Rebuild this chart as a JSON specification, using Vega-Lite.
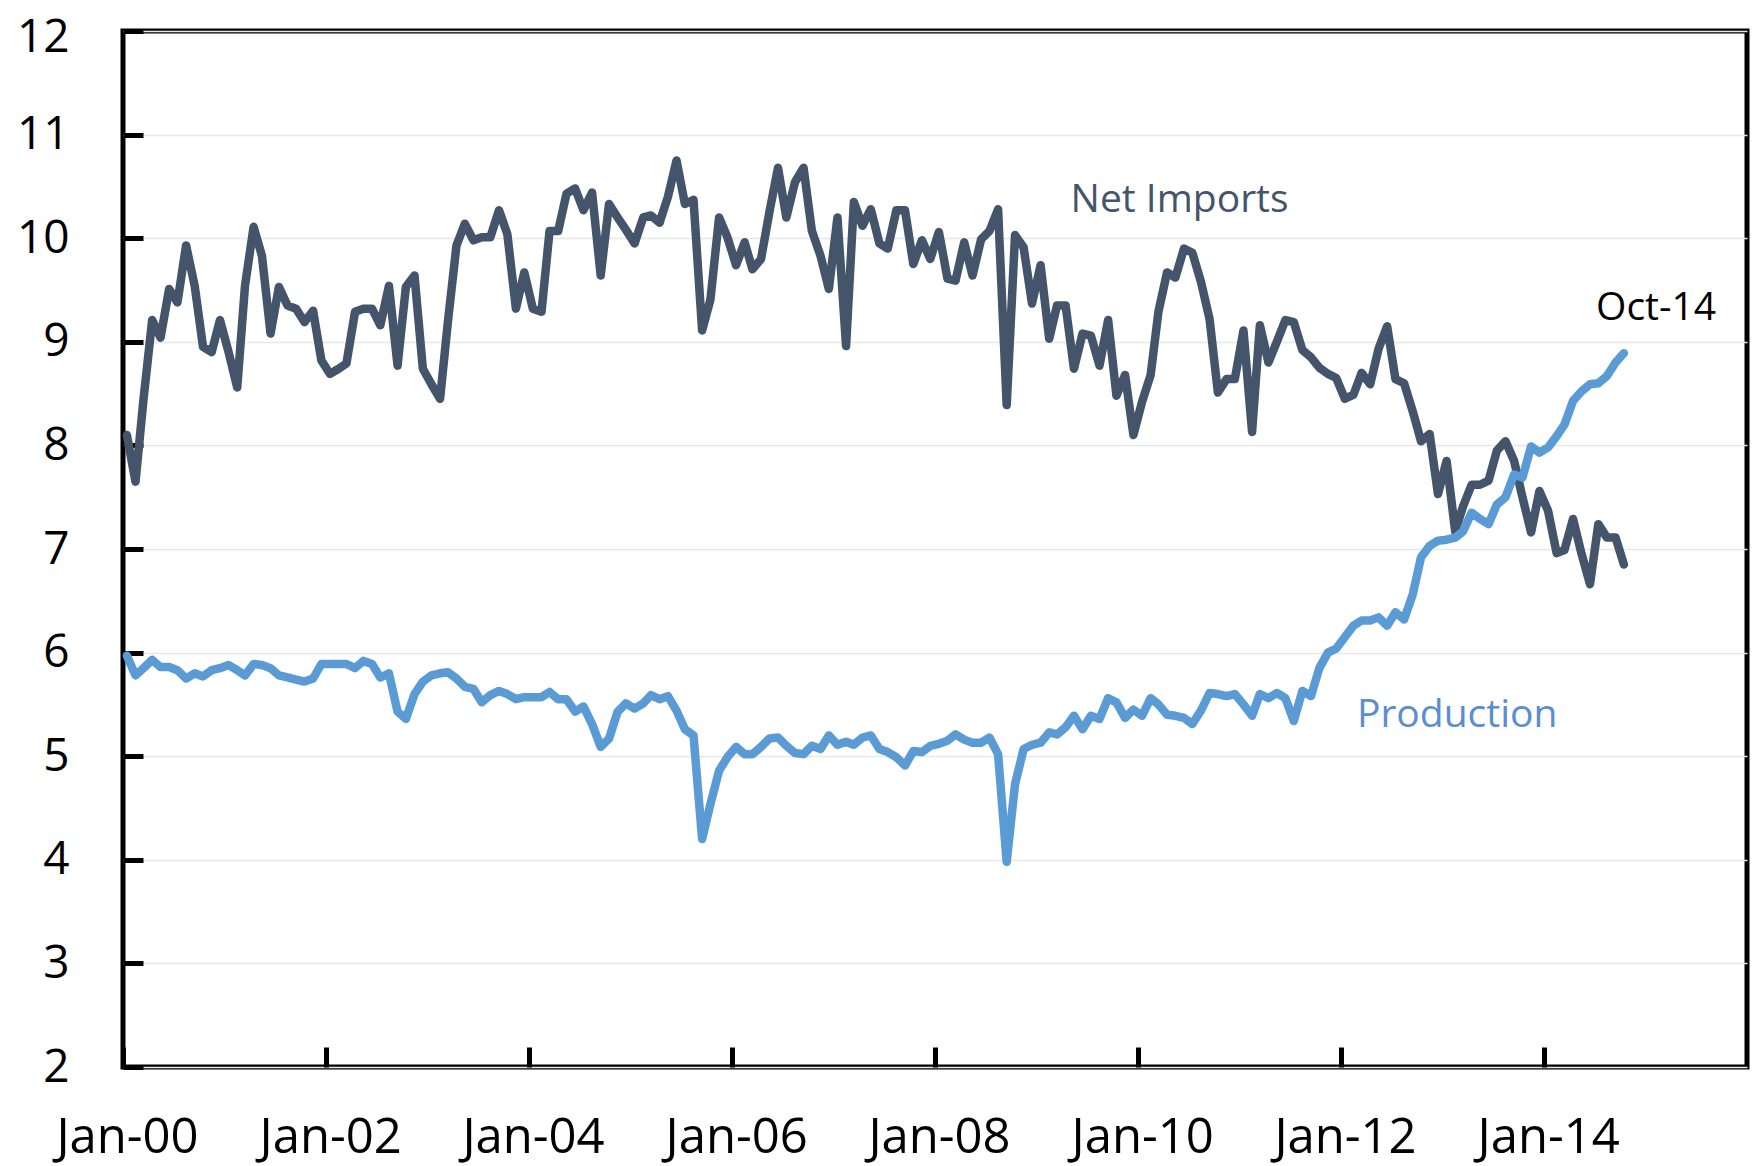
{
  "$schema": "https://vega.github.io/schema/vega-lite/v6.json",
  "width": 1624,
  "height": 1036,
  "autosize": {"type": "none"},
  "padding": {"left": 123, "top": 31, "right": 9, "bottom": 99},
  "background": "#ffffff",
  "config": {"font": "Open Sans", "view": {"stroke": "#000000", "strokeWidth": 5}},
  "datasets": {
    "series": [
      {"d":"2000-01-15","ni":8.10,"pr":5.97},{"d":"2000-02-15","ni":7.65,"pr":5.78},{"d":"2000-03-15","ni":8.45,"pr":5.85},{"d":"2000-04-15","ni":9.21,"pr":5.93},{"d":"2000-05-15","ni":9.04,"pr":5.86},{"d":"2000-06-15","ni":9.51,"pr":5.86},{"d":"2000-07-15","ni":9.38,"pr":5.83},{"d":"2000-08-15","ni":9.93,"pr":5.75},{"d":"2000-09-15","ni":9.54,"pr":5.80},{"d":"2000-10-15","ni":8.95,"pr":5.77},{"d":"2000-11-15","ni":8.90,"pr":5.83},{"d":"2000-12-15","ni":9.21,"pr":5.85},
      {"d":"2001-01-15","ni":8.90,"pr":5.88},{"d":"2001-02-15","ni":8.56,"pr":5.83},{"d":"2001-03-15","ni":9.54,"pr":5.78},{"d":"2001-04-15","ni":10.11,"pr":5.89},{"d":"2001-05-15","ni":9.83,"pr":5.88},{"d":"2001-06-15","ni":9.08,"pr":5.85},{"d":"2001-07-15","ni":9.53,"pr":5.78},{"d":"2001-08-15","ni":9.35,"pr":5.76},{"d":"2001-09-15","ni":9.32,"pr":5.74},{"d":"2001-10-15","ni":9.19,"pr":5.72},{"d":"2001-11-15","ni":9.30,"pr":5.75},{"d":"2001-12-15","ni":8.82,"pr":5.89},
      {"d":"2002-01-15","ni":8.69,"pr":5.89},{"d":"2002-02-15","ni":8.74,"pr":5.89},{"d":"2002-03-15","ni":8.79,"pr":5.89},{"d":"2002-04-15","ni":9.29,"pr":5.85},{"d":"2002-05-15","ni":9.32,"pr":5.92},{"d":"2002-06-15","ni":9.32,"pr":5.89},{"d":"2002-07-15","ni":9.16,"pr":5.76},{"d":"2002-08-15","ni":9.54,"pr":5.80},{"d":"2002-09-15","ni":8.77,"pr":5.43},{"d":"2002-10-15","ni":9.53,"pr":5.36},{"d":"2002-11-15","ni":9.64,"pr":5.60},{"d":"2002-12-15","ni":8.74,"pr":5.72},
      {"d":"2003-01-15","ni":8.59,"pr":5.78},{"d":"2003-02-15","ni":8.45,"pr":5.80},{"d":"2003-03-15","ni":9.19,"pr":5.81},{"d":"2003-04-15","ni":9.93,"pr":5.75},{"d":"2003-05-15","ni":10.14,"pr":5.67},{"d":"2003-06-15","ni":9.98,"pr":5.65},{"d":"2003-07-15","ni":10.01,"pr":5.52},{"d":"2003-08-15","ni":10.01,"pr":5.59},{"d":"2003-09-15","ni":10.27,"pr":5.63},{"d":"2003-10-15","ni":10.04,"pr":5.60},{"d":"2003-11-15","ni":9.32,"pr":5.55},{"d":"2003-12-15","ni":9.67,"pr":5.57},
      {"d":"2004-01-15","ni":9.32,"pr":5.57},{"d":"2004-02-15","ni":9.29,"pr":5.57},{"d":"2004-03-15","ni":10.07,"pr":5.62},{"d":"2004-04-15","ni":10.07,"pr":5.55},{"d":"2004-05-15","ni":10.43,"pr":5.55},{"d":"2004-06-15","ni":10.48,"pr":5.43},{"d":"2004-07-15","ni":10.27,"pr":5.48},{"d":"2004-08-15","ni":10.44,"pr":5.31},{"d":"2004-09-15","ni":9.64,"pr":5.09},{"d":"2004-10-15","ni":10.33,"pr":5.17},{"d":"2004-11-15","ni":10.20,"pr":5.43},{"d":"2004-12-15","ni":10.08,"pr":5.51},
      {"d":"2005-01-15","ni":9.95,"pr":5.46},{"d":"2005-02-15","ni":10.20,"pr":5.51},{"d":"2005-03-15","ni":10.22,"pr":5.59},{"d":"2005-04-15","ni":10.15,"pr":5.55},{"d":"2005-05-15","ni":10.40,"pr":5.58},{"d":"2005-06-15","ni":10.75,"pr":5.44},{"d":"2005-07-15","ni":10.33,"pr":5.26},{"d":"2005-08-15","ni":10.37,"pr":5.20},{"d":"2005-09-15","ni":9.11,"pr":4.20},{"d":"2005-10-15","ni":9.41,"pr":4.54},{"d":"2005-11-15","ni":10.20,"pr":4.86},{"d":"2005-12-15","ni":10.01,"pr":4.99},
      {"d":"2006-01-15","ni":9.74,"pr":5.09},{"d":"2006-02-15","ni":9.96,"pr":5.02},{"d":"2006-03-15","ni":9.70,"pr":5.02},{"d":"2006-04-15","ni":9.80,"pr":5.09},{"d":"2006-05-15","ni":10.25,"pr":5.17},{"d":"2006-06-15","ni":10.68,"pr":5.18},{"d":"2006-07-15","ni":10.20,"pr":5.10},{"d":"2006-08-15","ni":10.54,"pr":5.03},{"d":"2006-09-15","ni":10.68,"pr":5.02},{"d":"2006-10-15","ni":10.07,"pr":5.10},{"d":"2006-11-15","ni":9.83,"pr":5.07},{"d":"2006-12-15","ni":9.51,"pr":5.20},
      {"d":"2007-01-15","ni":10.20,"pr":5.11},{"d":"2007-02-15","ni":8.96,"pr":5.14},{"d":"2007-03-15","ni":10.35,"pr":5.11},{"d":"2007-04-15","ni":10.12,"pr":5.18},{"d":"2007-05-15","ni":10.28,"pr":5.20},{"d":"2007-06-15","ni":9.95,"pr":5.07},{"d":"2007-07-15","ni":9.90,"pr":5.04},{"d":"2007-08-15","ni":10.27,"pr":4.99},{"d":"2007-09-15","ni":10.27,"pr":4.91},{"d":"2007-10-15","ni":9.75,"pr":5.05},{"d":"2007-11-15","ni":9.98,"pr":5.04},{"d":"2007-12-15","ni":9.80,"pr":5.10},
      {"d":"2008-01-15","ni":10.06,"pr":5.12},{"d":"2008-02-15","ni":9.61,"pr":5.15},{"d":"2008-03-15","ni":9.59,"pr":5.21},{"d":"2008-04-15","ni":9.96,"pr":5.16},{"d":"2008-05-15","ni":9.64,"pr":5.13},{"d":"2008-06-15","ni":9.99,"pr":5.13},{"d":"2008-07-15","ni":10.07,"pr":5.18},{"d":"2008-08-15","ni":10.28,"pr":5.02},{"d":"2008-09-15","ni":8.39,"pr":3.98},{"d":"2008-10-15","ni":10.03,"pr":4.73},{"d":"2008-11-15","ni":9.91,"pr":5.07},{"d":"2008-12-15","ni":9.37,"pr":5.11},
      {"d":"2009-01-15","ni":9.74,"pr":5.13},{"d":"2009-02-15","ni":9.03,"pr":5.23},{"d":"2009-03-15","ni":9.35,"pr":5.21},{"d":"2009-04-15","ni":9.35,"pr":5.28},{"d":"2009-05-15","ni":8.74,"pr":5.39},{"d":"2009-06-15","ni":9.08,"pr":5.26},{"d":"2009-07-15","ni":9.06,"pr":5.39},{"d":"2009-08-15","ni":8.77,"pr":5.36},{"d":"2009-09-15","ni":9.21,"pr":5.56},{"d":"2009-10-15","ni":8.48,"pr":5.52},{"d":"2009-11-15","ni":8.68,"pr":5.37},{"d":"2009-12-15","ni":8.10,"pr":5.45},
      {"d":"2010-01-15","ni":8.42,"pr":5.39},{"d":"2010-02-15","ni":8.68,"pr":5.56},{"d":"2010-03-15","ni":9.29,"pr":5.50},{"d":"2010-04-15","ni":9.67,"pr":5.40},{"d":"2010-05-15","ni":9.62,"pr":5.39},{"d":"2010-06-15","ni":9.90,"pr":5.37},{"d":"2010-07-15","ni":9.86,"pr":5.31},{"d":"2010-08-15","ni":9.58,"pr":5.44},{"d":"2010-09-15","ni":9.22,"pr":5.61},{"d":"2010-10-15","ni":8.51,"pr":5.60},{"d":"2010-11-15","ni":8.64,"pr":5.58},{"d":"2010-12-15","ni":8.64,"pr":5.60},
      {"d":"2011-01-15","ni":9.11,"pr":5.50},{"d":"2011-02-15","ni":8.13,"pr":5.39},{"d":"2011-03-15","ni":9.16,"pr":5.60},{"d":"2011-04-15","ni":8.80,"pr":5.56},{"d":"2011-05-15","ni":9.00,"pr":5.61},{"d":"2011-06-15","ni":9.21,"pr":5.56},{"d":"2011-07-15","ni":9.19,"pr":5.34},{"d":"2011-08-15","ni":8.92,"pr":5.63},{"d":"2011-09-15","ni":8.85,"pr":5.58},{"d":"2011-10-15","ni":8.75,"pr":5.85},{"d":"2011-11-15","ni":8.69,"pr":6.00},{"d":"2011-12-15","ni":8.65,"pr":6.04},
      {"d":"2012-01-15","ni":8.45,"pr":6.15},{"d":"2012-02-15","ni":8.49,"pr":6.26},{"d":"2012-03-15","ni":8.70,"pr":6.31},{"d":"2012-04-15","ni":8.59,"pr":6.31},{"d":"2012-05-15","ni":8.93,"pr":6.34},{"d":"2012-06-15","ni":9.15,"pr":6.26},{"d":"2012-07-15","ni":8.64,"pr":6.39},{"d":"2012-08-15","ni":8.60,"pr":6.32},{"d":"2012-09-15","ni":8.33,"pr":6.56},{"d":"2012-10-15","ni":8.04,"pr":6.92},{"d":"2012-11-15","ni":8.11,"pr":7.03},{"d":"2012-12-15","ni":7.53,"pr":7.08},
      {"d":"2013-01-15","ni":7.85,"pr":7.09},{"d":"2013-02-15","ni":7.17,"pr":7.11},{"d":"2013-03-15","ni":7.41,"pr":7.17},{"d":"2013-04-15","ni":7.62,"pr":7.35},{"d":"2013-05-15","ni":7.62,"pr":7.29},{"d":"2013-06-15","ni":7.66,"pr":7.24},{"d":"2013-07-15","ni":7.95,"pr":7.43},{"d":"2013-08-15","ni":8.04,"pr":7.50},{"d":"2013-09-15","ni":7.85,"pr":7.72},{"d":"2013-10-15","ni":7.50,"pr":7.69},{"d":"2013-11-15","ni":7.16,"pr":7.99},{"d":"2013-12-15","ni":7.56,"pr":7.93},
      {"d":"2014-01-15","ni":7.37,"pr":7.98},{"d":"2014-02-15","ni":6.96,"pr":8.09},{"d":"2014-03-15","ni":6.99,"pr":8.20},{"d":"2014-04-15","ni":7.29,"pr":8.43},{"d":"2014-05-15","ni":6.96,"pr":8.52},{"d":"2014-06-15","ni":6.66,"pr":8.59},{"d":"2014-07-15","ni":7.24,"pr":8.60},{"d":"2014-08-15","ni":7.11,"pr":8.67},{"d":"2014-09-15","ni":7.11,"pr":8.80},{"d":"2014-10-15","ni":6.85,"pr":8.89}
    ],
    "notes": [
      {"d":"2010-05-30","v":10.25,"label":"Net Imports"},
      {"d":"2013-02-22","v":5.28,"label":"Production"},
      {"d":"2015-02-08","v":9.21,"label":"Oct-14"}
    ]
  },
  "encoding": {
    "x": {
      "field": "d",
      "type": "temporal",
      "title": null,
      "scale": {"type": "utc", "domain": [{"year": 2000, "month": 1, "date": 1, "utc": true}, {"year": 2016, "month": 1, "date": 1, "utc": true}]},
      "axis": {
        "values": [
          {"year": 2000, "month": 1, "date": 1, "utc": true},
          {"year": 2002, "month": 1, "date": 1, "utc": true},
          {"year": 2004, "month": 1, "date": 1, "utc": true},
          {"year": 2006, "month": 1, "date": 1, "utc": true},
          {"year": 2008, "month": 1, "date": 1, "utc": true},
          {"year": 2010, "month": 1, "date": 1, "utc": true},
          {"year": 2012, "month": 1, "date": 1, "utc": true},
          {"year": 2014, "month": 1, "date": 1, "utc": true}
        ],
        "format": "%b-%y",
        "labelFont": "Open Sans",
        "labelFontSize": 49,
        "labelColor": "#000000",
        "labelAngle": 0,
        "labelFlush": false,
        "labelOverlap": false,
        "labelPadding": 66,
        "labelOffset": 4,
        "tickSize": -20,
        "tickWidth": 5,
        "tickColor": "#000000",
        "domain": false,
        "grid": false,
        "title": null
      }
    }
  },
  "layer": [
    {
      "data": {"name": "series"},
      "mark": {"type": "line", "color": "#44546A", "strokeWidth": 8.5, "strokeJoin": "round", "strokeCap": "round"},
      "encoding": {
        "y": {
          "field": "ni",
          "type": "quantitative",
          "title": null,
          "scale": {"domain": [2, 12], "nice": false, "zero": false},
          "axis": {
            "values": [2, 3, 4, 5, 6, 7, 8, 9, 10, 11, 12],
            "format": "d",
            "labelFont": "Open Sans",
            "labelFontSize": 46,
            "labelColor": "#000000",
            "labelFlush": false,
            "labelOverlap": false,
            "labelPadding": 74,
            "labelOffset": {"condition": {"test": "datum.value === 12", "value": 6}, "value": 0},
            "tickSize": -20,
            "tickWidth": 5,
            "tickColor": "#000000",
            "domain": false,
            "grid": true,
            "gridColor": "#e8e8e8",
            "gridWidth": 1.5,
            "title": null
          }
        }
      }
    },
    {
      "data": {"name": "series"},
      "mark": {"type": "line", "color": "#5B9BD5", "strokeWidth": 8.5, "strokeJoin": "round", "strokeCap": "round"},
      "encoding": {
        "y": {"field": "pr", "type": "quantitative", "title": null}
      }
    },
    {
      "data": {"name": "notes"},
      "mark": {"type": "text", "font": "Open Sans", "fontSize": 39, "align": "center", "baseline": "alphabetic"},
      "encoding": {
        "y": {"field": "v", "type": "quantitative", "title": null},
        "text": {"field": "label"},
        "color": {
          "field": "label",
          "type": "nominal",
          "scale": {"domain": ["Net Imports", "Production", "Oct-14"], "range": ["#44546A", "#5A8ED0", "#000000"]},
          "legend": null
        }
      }
    }
  ]
}
